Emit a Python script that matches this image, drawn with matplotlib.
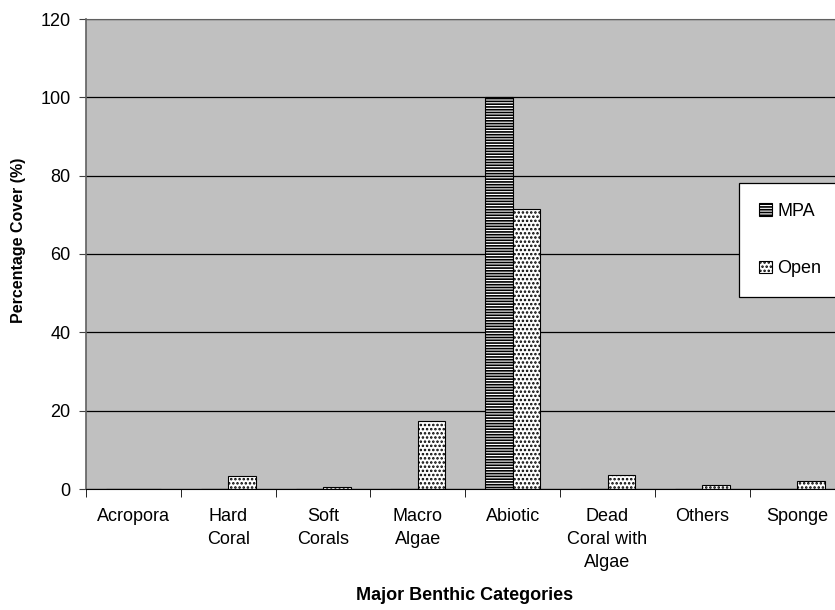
"""Percentage cover of major benthic categories, MPA vs Open sites"""
import matplotlib.pyplot as plt
import numpy as np

categories = ["Acropora", "Hard\nCoral", "Soft\nCorals", "Macro\nAlgae", "Abiotic",
              "Dead\nCoral with\nAlgae", "Others", "Sponge"]
mpa_cover = [0, 0, 0, 0, 100, 0, 0, 0]
open_cover = [0, 3.4, 0.6, 17.4, 71.5, 3.6, 0.9, 2.0]
y_ticks = [0, 20, 40, 60, 80, 100, 120]

plt.rcParams['font.family'] = ['Liberation Sans', 'DejaVu Sans']
plt.rcParams['hatch.linewidth'] = 1.2


def main():
    fig = plt.figure(figsize=(8.35, 6.1), dpi=100)
    ax = fig.add_axes([86 / 835, 121 / 610, 758.6 / 835, 470 / 610])

    x = np.arange(len(categories))
    width = 0.29
    ax.bar(x - width / 2, mpa_cover, width, facecolor='white', edgecolor='black',
           hatch='------', linewidth=0.8, label='MPA')
    ax.bar(x + width / 2, open_cover, width, facecolor='white', edgecolor='black',
           hatch='....', linewidth=0.8, label='Open')

    ax.set_xlim(-0.5, len(categories) - 0.5)
    ax.set_ylim(0, 120)
    ax.set_facecolor('#c0c0c0')
    ax.set_yticks(y_ticks)
    ax.yaxis.grid(True, color='black', linewidth=0.9)
    ax.set_axisbelow(True)

    ax.set_xticks(x, categories)
    ax.set_xticks(np.arange(-0.5, len(categories), 1), minor=True)
    ax.tick_params(axis='x', which='major', length=0, pad=14, labelsize=13)
    ax.tick_params(axis='x', which='minor', length=6, direction='out', color='black')
    ax.tick_params(axis='y', length=5, direction='out', pad=6, labelsize=13, color='#404040')
    for lbl in ax.get_xticklabels():
        lbl.set_linespacing(1.45)

    ax.spines['left'].set_color('#606060')
    ax.spines['left'].set_linewidth(1.2)
    ax.spines['top'].set_color('#606060')
    ax.spines['bottom'].set_color('black')

    fig.text(19 / 835, 1 - 240 / 610, "Percentage Cover (%)", rotation=90,
             ha='center', va='center', fontsize=11.5, fontweight='bold')
    fig.text(465 / 835, 1 - 595 / 610, "Major Benthic Categories",
             ha='center', va='center', fontsize=13, fontweight='bold')

    leg = ax.legend(loc='upper left', bbox_to_anchor=(739.3 / 835, 1 - 182.7 / 610),
                    bbox_transform=fig.transFigure, borderaxespad=0, fontsize=13,
                    fancybox=False, edgecolor='black', framealpha=1, borderpad=1.1,
                    labelspacing=2.25, handlelength=0.7, handleheight=0.7,
                    handletextpad=0.3)
    leg.get_frame().set_linewidth(0.9)

    fig.savefig("out.png", dpi=100)


if __name__ == "__main__":
    main()
